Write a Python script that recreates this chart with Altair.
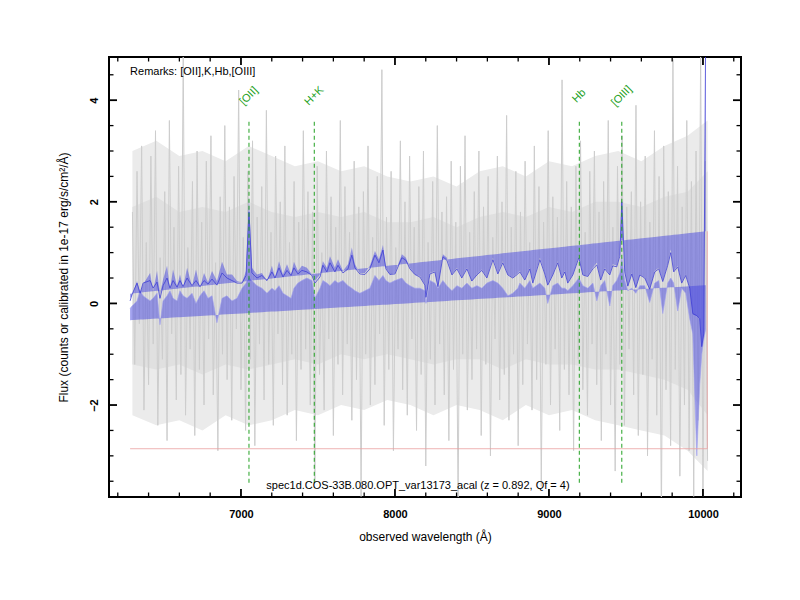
import altair as alt
import pandas as pd

# ---------------- data ----------------
# raw (noisy) spectrum, sampled on a regular wavelength grid
grey_start = 6295
grey_step = 15
grey_flux = [
    1.8, -1.2, 2.6, -0.4, 3.1, -2.1, 1.2, -1.6, 2.9, -0.8,
    3.4, -2.4, 0.9, -1.1, 2.2, -2.7, 3.6, -0.6, 1.5, -1.9,
    2.7, -1.4, 4.9, -2.2, 1.1, -0.9, 2.4, -2.6, 3.0, -1.3,
    1.6, -2.0, 2.8, -0.7, 3.3, -1.8, 0.8, -2.9, 2.1, -1.0,
    3.5, -1.5, 1.9, -2.3, 2.5, -0.5, 4.2, -1.7, 1.3, -2.5,
    2.6, -1.1, 3.2, -2.8, 1.7, -0.8, 2.3, -1.9, 3.8, -1.2,
    1.4, -2.4, 2.9, -0.6, 2.0, -1.6, 3.1, -2.2, 1.2, -1.0,
    2.4, -2.7, 1.6, -1.3, 3.4, -0.9, 2.2, -2.0, 1.8, -3.5,
    2.7, -1.4, 1.0, -2.1, 3.0, -0.7, 2.1, -2.6, 1.5, -1.2,
    3.6, -1.8, 2.3, -0.8, 1.4, -2.3, 2.8, -1.5, 1.9, -3.8,
    2.2, -1.0, 3.1, -2.0, 1.3, -1.6, 2.5, -0.6, 4.6, -2.4,
    1.7, -1.3, 2.6, -2.9, 1.1, -0.9, 3.2, -1.7, 2.0, -2.2,
    2.9, -0.7, 1.5, -2.5, 2.3, -1.4, 3.0, -3.2, 1.2, -1.1,
    2.4, -2.0, 3.5, -0.8, 1.8, -1.8, 2.1, -2.7, 2.8, -1.3,
    1.6, -4.0, 2.7, -1.0, 3.3, -2.1, 1.4, -1.5, 2.2, -0.9,
    3.0, -2.6, 1.9, -1.2, 2.5, -3.0, 1.3, -0.7, 2.9, -1.9,
    2.0, -1.4, 3.7, -2.3, 1.5, -1.0, 2.6, -2.8, 1.8, -1.6,
    2.8, -0.8, 1.2, -2.1, 3.1, -1.5, 2.3, -3.6, 1.6, -1.2,
    3.4, -2.0, 2.1, -0.9, 1.7, -2.5, 4.4, -1.3, 2.4, -1.8,
    1.9, -2.9, 2.7, -1.1, 3.2, -1.7, 1.4, -2.2, 2.6, -0.8,
    3.0, -1.6, 1.8, -2.7, 2.4, -1.0, 3.6, -2.0, 1.5, -3.3,
    2.7, -1.2, 3.3, -2.4, 1.9, -0.9, 2.2, -1.8, 3.9, -2.6,
    2.0, -1.4, 2.9, -3.0, 1.6, -1.1, 3.4, -2.2, 2.5, -4.2,
    3.1, -1.7, 2.2, -2.8, 4.8, -1.3, 2.7, -3.4, 1.9, -2.0,
    3.6, -2.9, 2.4, -3.8, 3.0, -2.3, 5.0, -4.0, 2.8, -3.1,
]
grey_wave = [grey_start + grey_step * i for i in range(len(grey_flux))]

# envelope of the dense noise (outer and inner), on a coarse grid
noise_wave = [6295, 6450, 6600, 6750, 6900, 7050, 7200, 7350, 7500, 7650,
              7800, 7950, 8100, 8250, 8400, 8550, 8700, 8850, 9000, 9150,
              9300, 9450, 9600, 9750, 9900, 10030]
noise_outer_hi = [3.0, 3.2, 2.9, 3.0, 2.8, 3.1, 2.9, 2.7, 2.8, 2.6,
                  2.7, 2.5, 2.4, 2.5, 2.3, 2.6, 2.7, 2.5, 2.8, 2.7,
                  2.9, 3.0, 2.8, 3.1, 3.3, 3.6]
noise_outer_lo = [-2.2, -2.4, -2.3, -2.5, -2.2, -2.4, -2.3, -2.1, -2.2, -2.0,
                  -2.1, -1.9, -2.0, -2.2, -2.0, -2.1, -2.3, -2.0, -2.2, -2.1,
                  -2.3, -2.4, -2.5, -2.6, -2.9, -3.3]
noise_inner_hi = [1.9, 2.1, 1.8, 1.9, 1.8, 2.0, 1.8, 1.7, 1.8, 1.7,
                  1.8, 1.6, 1.6, 1.7, 1.5, 1.7, 1.8, 1.7, 1.9, 1.8,
                  2.0, 2.0, 1.9, 2.1, 2.2, 2.6]
noise_inner_lo = [-1.2, -1.3, -1.2, -1.4, -1.2, -1.3, -1.2, -1.1, -1.2, -1.0,
                  -1.1, -1.0, -1.1, -1.2, -1.1, -1.1, -1.3, -1.1, -1.2, -1.2,
                  -1.3, -1.3, -1.4, -1.5, -1.7, -2.2]

# smoothed spectrum: wavelengths, upper envelope, lower envelope, smoothed flux
smooth_wave = [
    6280, 6293, 6325, 6345, 6364, 6410, 6429, 6455, 6474, 6494,
    6520, 6539, 6559, 6585, 6604, 6624, 6650, 6682, 6708, 6734,
    6760, 6786, 6812, 6844, 6877, 6909, 6942, 6974, 7007, 7033,
    7052, 7071, 7104, 7136, 7169, 7201, 7221, 7247, 7273, 7299,
    7325, 7344, 7370, 7396, 7428, 7461, 7480, 7513, 7532, 7558,
    7578, 7610, 7630, 7662, 7695, 7720, 7740, 7772, 7805, 7837,
    7870, 7896, 7922, 7941, 7967, 8000, 8045, 8071, 8097, 8129,
    8162, 8194, 8201, 8227, 8259, 8279, 8311, 8337, 8370, 8402,
    8434, 8467, 8499, 8532, 8564, 8597, 8636, 8668, 8700, 8733,
    8765, 8798, 8811, 8843, 8876, 8895, 8941, 8973, 8992, 9025,
    9057, 9083, 9103, 9122, 9155, 9194, 9220, 9252, 9285, 9311,
    9336, 9362, 9395, 9414, 9440, 9460, 9473, 9492, 9512, 9538,
    9564, 9590, 9622, 9654, 9687, 9713, 9739, 9771, 9791, 9810,
    9836, 9862, 9888, 9914, 9934, 9960, 9979, 9992, 10005, 10018,
]
upper_env = [
    0.10, 0.16, 0.44, 0.21, 0.37, 0.60, 0.24, 0.64, 0.18, 0.47,
    0.74, 0.28, 0.67, 0.34, 0.57, 0.31, 0.70, 0.34, 0.67, 0.31,
    0.60, 0.41, 0.64, 0.44, 0.82, 0.57, 0.57, 0.44, 0.41, 0.64,
    2.10, 0.70, 0.57, 0.60, 0.44, 0.74, 0.51, 0.83, 0.57, 0.77,
    0.57, 0.82, 0.64, 0.74, 0.70, 0.57, 0.44, 0.57, 0.83, 0.70,
    0.93, 0.70, 0.87, 0.64, 0.77, 1.10, 0.77, 0.60, 0.60, 0.74,
    1.03, 0.87, 1.15, 0.70, 0.57, 0.60, 0.97, 0.90, 0.70, 0.57,
    0.54, 0.37, 0.10, 0.60, 0.64, 0.31, 0.97, 0.90, 0.57, 0.70,
    0.51, 0.70, 0.44, 0.57, 0.67, 0.51, 0.90, 0.60, 0.83, 0.57,
    0.51, 0.60, 0.64, 0.47, 0.70, 0.41, 0.90, 0.60, 0.37, 0.57,
    0.83, 0.51, 0.64, 0.41, 0.57, 0.93, 0.57, 0.54, 0.70, 0.80,
    0.47, 0.70, 0.57, 0.77, 0.74, 0.97, 2.10, 0.64, 0.34, 0.60,
    0.31, 0.57, 0.51, 0.28, 0.64, 0.70, 0.44, 0.77, 1.06, 0.64,
    0.74, 0.41, 0.57, 0.31, -0.22, -0.25, -0.28, -0.87, -0.60, 5.50,
]
lower_env = [
    -0.10, -0.05, 0.05, 0.25, 0.15, 0.05, 0.10, 0.20, -0.42, 0.05,
    0.15, 0.25, 0.10, 0.05, 0.25, 0.15, 0.10, 0.20, 0.00, 0.15,
    0.25, 0.10, 0.15, -0.38, 0.10, 0.15, 0.05, 0.10, 0.30, 0.40,
    0.55, 0.45, 0.35, 0.30, 0.20, 0.30, 0.25, 0.35, 0.20, 0.15,
    0.10, 0.30, 0.40, 0.45, 0.50, 0.45, 0.10, 0.30, 0.45, 0.40,
    0.35, 0.45, 0.40, 0.45, 0.35, 0.30, 0.25, 0.20, 0.25, 0.30,
    0.55, 0.45, 0.55, 0.45, 0.40, 0.45, 0.50, 0.40, 0.35, 0.30,
    0.30, 0.25, 0.00, 0.45, 0.40, 0.30, 0.45, 0.35, 0.25, 0.35,
    0.30, 0.40, 0.30, 0.35, 0.30, 0.40, 0.45, 0.40, 0.30, 0.15,
    0.20, 0.30, 0.40, 0.30, 0.45, 0.30, 0.40, 0.30, 0.00, 0.35,
    0.40, 0.30, 0.30, 0.25, 0.35, 0.50, 0.35, 0.30, 0.40, 0.05,
    0.35, 0.45, -0.05, 0.35, 0.45, 0.60, 0.90, 0.45, 0.25, 0.30,
    0.20, 0.35, 0.35, 0.02, 0.40, 0.45, -0.20, 0.40, 0.50, 0.40,
    -0.15, 0.30, 0.20, -0.30, -0.60, -3.00, -1.60, -1.00, -0.70, -0.50,
]
smooth_flux = [
    0.05, 0.18, 0.40, 0.20, 0.40, 0.45, 0.30, 0.42, 0.10, 0.35,
    0.50, 0.30, 0.45, 0.32, 0.45, 0.33, 0.50, 0.35, 0.45, 0.33,
    0.45, 0.38, 0.48, 0.36, 0.60, 0.50, 0.45, 0.40, 0.40, 0.55,
    1.80, 0.60, 0.50, 0.55, 0.45, 0.62, 0.50, 0.70, 0.52, 0.65,
    0.55, 0.70, 0.58, 0.65, 0.62, 0.55, 0.40, 0.52, 0.75, 0.62,
    0.80, 0.62, 0.75, 0.60, 0.68, 0.95, 0.70, 0.58, 0.57, 0.68,
    0.95, 0.80, 1.05, 0.68, 0.57, 0.58, 0.90, 0.85, 0.68, 0.57,
    0.52, 0.36, 0.12, 0.58, 0.62, 0.33, 0.92, 0.85, 0.56, 0.68,
    0.50, 0.68, 0.44, 0.56, 0.65, 0.50, 0.86, 0.58, 0.80, 0.56,
    0.50, 0.58, 0.62, 0.46, 0.68, 0.40, 0.86, 0.58, 0.36, 0.56,
    0.80, 0.50, 0.62, 0.40, 0.56, 0.90, 0.56, 0.53, 0.68, 0.76,
    0.46, 0.68, 0.56, 0.74, 0.72, 0.93, 2.00, 0.62, 0.34, 0.58,
    0.31, 0.56, 0.50, 0.28, 0.62, 0.68, 0.43, 0.75, 1.00, 0.62,
    0.72, 0.40, 0.55, 0.30, -0.20, -0.24, -0.30, -0.85, -0.60, 5.50,
]

# straight continuum band (end points)
band_wave = [6280, 10024]
band_top = [0.19, 1.42]
band_bottom = [-0.33, 0.36]

# identified lines
line_names = ["[OII]", "H+K", "Hb", "[OIII]"]
line_waves = [7052, 7476, 9197, 9473]
line_y_top = 3.63
line_y_bottom = -3.53
line_label_y = 4.08

# red limit line
limit_flux = -2.86
limit_wave = [6280, 10028]
limit_top = 1.42

# ticks
x_major = [7000, 8000, 9000, 10000]
x_minor = [6200, 6400, 6600, 6800, 7200, 7400, 7600, 7800, 8200, 8400,
           8600, 8800, 9200, 9400, 9600, 9800, 10200]
y_major = [-2, 0, 2, 4]
y_minor = [-3.5, -3, -2.5, -1.5, -1, -0.5, 0.5, 1, 1.5, 2.5, 3, 3.5, 4.5]

remarks = "Remarks: [OII],K,Hb,[OIII]"
remarks_pos = (6280, 4.55)
spec_name = "spec1d.COS-33B.080.OPT_var13173_acal (z = 0.892, Qf = 4)"
spec_pos = (8149, -3.59)

# ---------------- chart ----------------
W, H = 632, 440
FONT = "Liberation Sans"
X_DOMAIN = [6143, 10247]
Y_DOMAIN = [-3.81, 4.85]
BLUE_FILL = "#4646e0"
GREEN = "#22a022"

xs = alt.Scale(domain=X_DOMAIN, nice=False, zero=False)
ys = alt.Scale(domain=Y_DOMAIN, nice=False, zero=False)

x_axis = alt.Axis(values=x_major, format="d", title="observed wavelength (Å)",
                  ticks=False, domain=False, grid=False, labelFont=FONT,
                  labelFontSize=11, labelFontWeight="bold", labelColor="black",
                  labelPadding=11, titleFont=FONT, titleFontSize=12,
                  titleFontWeight="normal", titleColor="black", titlePadding=12,
                  labelOverlap=False, labelFlush=False)
y_axis = alt.Axis(values=y_major, format="d",
                  title="Flux (counts or calibrated in 1e-17 erg/s/cm²/Å)",
                  ticks=False, domain=False, grid=False, labelFont=FONT,
                  labelFontSize=11, labelFontWeight="bold", labelColor="black",
                  labelAngle=270, labelAlign="center", labelBaseline="bottom",
                  labelPadding=10, titleFont=FONT, titleFontSize=12,
                  titleFontWeight="normal", titleColor="black", titlePadding=18,
                  labelOverlap=False, labelFlush=False)


def X(field):
    return alt.X(field, type="quantitative", scale=xs, axis=x_axis)


def Y(field):
    return alt.Y(field, type="quantitative", scale=ys, axis=y_axis)


grey_df = pd.DataFrame({"lam": grey_wave, "flux": grey_flux})
noise_df = pd.DataFrame({"lam": noise_wave, "ohi": noise_outer_hi, "olo": noise_outer_lo,
                         "ihi": noise_inner_hi, "ilo": noise_inner_lo})
smooth_df = pd.DataFrame({"lam": smooth_wave, "upper": upper_env,
                          "lower": lower_env, "flux": smooth_flux})

u_expr = (f"{band_top[0]} + (datum.lam - {band_wave[0]}) * "
          f"({band_top[1]} - {band_top[0]}) / ({band_wave[1]} - {band_wave[0]})")
l_expr = (f"{band_bottom[0]} + (datum.lam - {band_wave[0]}) * "
          f"({band_bottom[1]} - {band_bottom[0]}) / ({band_wave[1]} - {band_wave[0]})")

noise_outer = alt.Chart(noise_df).mark_area(color="#ebebeb", clip=True).encode(
    x=X("lam"), y=Y("ohi"), y2="olo:Q")
noise_inner = alt.Chart(noise_df).mark_area(color="#e0e0e0", clip=True).encode(
    x=X("lam"), y=Y("ihi"), y2="ilo:Q")

grey = alt.Chart(grey_df).mark_line(color="#cdcdcd", strokeWidth=1.0, clip=True).encode(
    x=X("lam"), y=Y("flux"))

fill_up = alt.Chart(smooth_df).transform_calculate(U=u_expr).mark_area(
    color=BLUE_FILL, opacity=0.5, clip=True).encode(
    x=X("lam"), y=Y("upper"), y2="U:Q")

fill_low = alt.Chart(smooth_df).transform_calculate(L=l_expr).mark_area(
    color=BLUE_FILL, opacity=0.5, clip=True).encode(
    x=X("lam"), y=Y("lower"), y2="L:Q")

low_line = alt.Chart(smooth_df).mark_line(color="#a0a0ee", strokeWidth=0.6, clip=True).encode(
    x=X("lam"), y=Y("lower"))

main_line = alt.Chart(smooth_df).mark_line(color="#4040d4", strokeWidth=0.8, clip=True).encode(
    x=X("lam"), y=Y("flux"))

limit_df = pd.DataFrame({"lam": [limit_wave[0]], "lam2": [limit_wave[1]],
                         "f": [limit_flux], "f2": [limit_top]})
limit_h = alt.Chart(limit_df).mark_rule(color="#eaa0a0", strokeWidth=0.8).encode(
    x=X("lam"), x2="lam2:Q", y=Y("f"))
limit_v = alt.Chart(limit_df).mark_rule(color="#eaa0a0", strokeWidth=0.8).encode(
    x=X("lam2"), y=Y("f"), y2="f2:Q")

lines_df = pd.DataFrame({"lam": line_waves, "name": line_names,
                         "top": [line_y_top] * len(line_waves),
                         "bot": [line_y_bottom] * len(line_waves),
                         "ly": [line_label_y] * len(line_waves)})
line_rules = alt.Chart(lines_df).mark_rule(color=GREEN, strokeWidth=1,
                                           strokeDash=[4, 3]).encode(
    x=X("lam"), y=Y("bot"), y2="top:Q")
line_labels = alt.Chart(lines_df).mark_text(color=GREEN, font=FONT, fontSize=11,
                                            angle=315, align="center",
                                            baseline="middle").encode(
    x=X("lam"), y=Y("ly"), text="name:N")


def xticks(values, length, width):
    df = pd.DataFrame({"v": values})
    bottom = alt.Chart(df).mark_rule(color="black", strokeWidth=width).encode(
        x=X("v"), y=alt.value(H), y2=alt.value(H - length))
    top = alt.Chart(df).mark_rule(color="black", strokeWidth=width).encode(
        x=X("v"), y=alt.value(0), y2=alt.value(length))
    return [bottom, top]


def yticks(values, length, width):
    df = pd.DataFrame({"v": values})
    left = alt.Chart(df).mark_rule(color="black", strokeWidth=width).encode(
        y=Y("v"), x=alt.value(0), x2=alt.value(length))
    right = alt.Chart(df).mark_rule(color="black", strokeWidth=width).encode(
        y=Y("v"), x=alt.value(W), x2=alt.value(W - length))
    return [left, right]


ticks = (xticks(x_major, 8, 1.8) + xticks(x_minor, 4.5, 1.3)
         + yticks(y_major, 8, 1.8) + yticks(y_minor, 4.5, 1.3))

remarks_txt = alt.Chart(pd.DataFrame({"lam": [remarks_pos[0]], "f": [remarks_pos[1]],
                                      "t": [remarks]})).mark_text(
    font=FONT, fontSize=11, color="black", align="left", baseline="middle").encode(
    x=X("lam"), y=Y("f"), text="t:N")
spec_txt = alt.Chart(pd.DataFrame({"lam": [spec_pos[0]], "f": [spec_pos[1]],
                                   "t": [spec_name]})).mark_text(
    font=FONT, fontSize=11, color="black", align="center", baseline="middle").encode(
    x=X("lam"), y=Y("f"), text="t:N")

chart = alt.layer(
    noise_outer, noise_inner, grey, fill_up, fill_low, low_line, main_line,
    limit_h, limit_v, line_rules, line_labels, *ticks, remarks_txt, spec_txt
).properties(
    width=W, height=H,
    autosize=alt.AutoSizeParams(type="none"),
    padding={"left": 101, "top": 49, "right": 51, "bottom": 95},
    background="white",
).configure_view(stroke="black", strokeWidth=2)

chart.save("out.html", embed_options={"renderer": "svg", "actions": False})
